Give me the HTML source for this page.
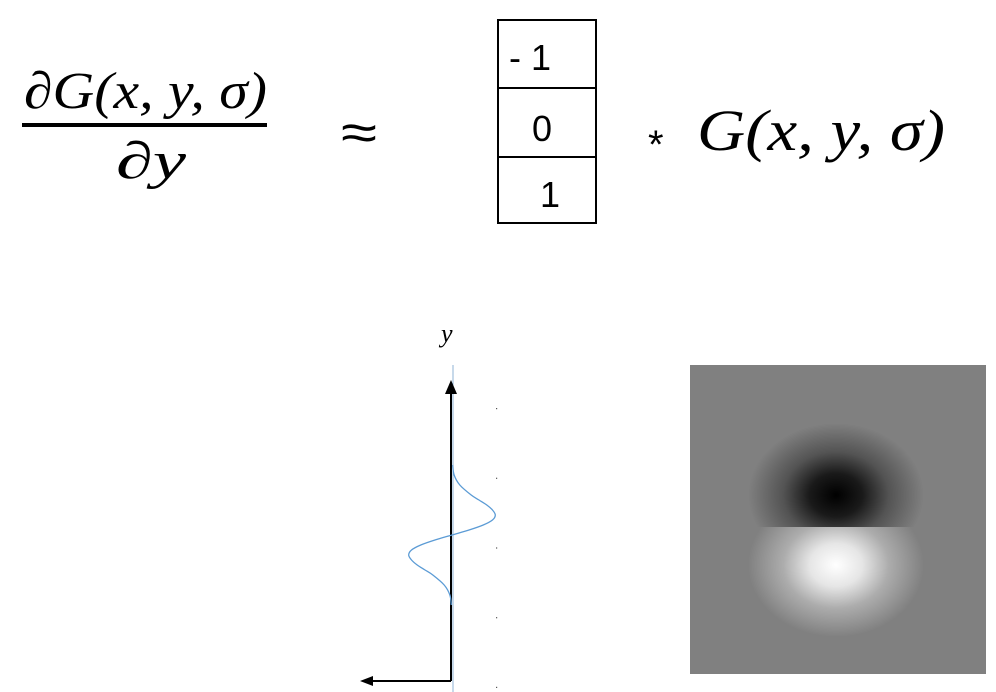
<!DOCTYPE html>
<html><head><meta charset="utf-8"><style>
html,body{margin:0;padding:0;background:#fff;width:996px;height:692px;overflow:hidden}
svg{display:block}
.m{font-family:"Liberation Serif",serif;font-style:italic}
.s{font-family:"Liberation Sans",sans-serif}
</style></head><body>
<svg width="996" height="692" viewBox="0 0 996 692">
<g>
 <text class="m" x="24" y="108" font-size="52" textLength="243" lengthAdjust="spacingAndGlyphs">∂G(x, y, σ)</text>
 <rect x="22" y="123" width="245" height="4" fill="#000"/>
 <text class="m" x="116" y="178" font-size="52" textLength="70" lengthAdjust="spacingAndGlyphs">∂y</text>
</g>
<text class="s" x="341" y="150" font-size="52" textLength="36" lengthAdjust="spacingAndGlyphs">≈</text>
<g>
 <rect x="498" y="20" width="98" height="203" fill="none" stroke="#000" stroke-width="2"/>
 <line x1="498" y1="88" x2="596" y2="88" stroke="#000" stroke-width="2"/>
 <line x1="498" y1="157" x2="596" y2="157" stroke="#000" stroke-width="2"/>
 <text class="s" x="509" y="70" font-size="36">- 1</text>
 <text class="s" x="532" y="141" font-size="36">0</text>
 <text class="s" x="540" y="207" font-size="36">1</text>
</g>
<text class="s" x="648" y="158" font-size="40">*</text>
<text class="m" x="697" y="150" font-size="58" textLength="248" lengthAdjust="spacingAndGlyphs">G(x, y, σ)</text>

<g id="plot">
 <text class="m" x="441" y="342" font-size="26">y</text>
 <line x1="453" y1="365" x2="453" y2="692" stroke="#8fb3d6" stroke-width="1"/>
 <line x1="451" y1="392" x2="451" y2="681" stroke="#000" stroke-width="2"/>
 <polygon points="451,380 445,394 457,394" fill="#000"/>
 <line x1="451" y1="681" x2="372" y2="681" stroke="#000" stroke-width="2"/>
 <polygon points="360,681 373,676 373,686" fill="#000"/>
</g>

<defs>
 <radialGradient id="dk" cx="0.5" cy="0.5" r="0.5">
  <stop offset="0" stop-color="#000" stop-opacity="1"/>
  <stop offset="0.3" stop-color="#000" stop-opacity="0.8"/>
  <stop offset="0.6" stop-color="#000" stop-opacity="0.35"/>
  <stop offset="1" stop-color="#000" stop-opacity="0"/>
 </radialGradient>
 <radialGradient id="lt" cx="0.5" cy="0.5" r="0.5">
  <stop offset="0" stop-color="#fff" stop-opacity="1"/>
  <stop offset="0.3" stop-color="#fff" stop-opacity="0.8"/>
  <stop offset="0.6" stop-color="#fff" stop-opacity="0.35"/>
  <stop offset="1" stop-color="#fff" stop-opacity="0"/>
 </radialGradient>
 <clipPath id="top"><rect x="690" y="365" width="296" height="162"/></clipPath>
 <clipPath id="bot"><rect x="690" y="527" width="296" height="147"/></clipPath>
</defs>
<g>
 <rect x="690" y="365" width="296" height="309" fill="#808080"/>
 <ellipse cx="836" cy="495" rx="88" ry="72" fill="url(#dk)" clip-path="url(#top)"/>
 <ellipse cx="836" cy="565" rx="88" ry="72" fill="url(#lt)" clip-path="url(#bot)"/>
</g>
</svg>
<script>
// sampled derivative-of-gaussian response (positive = right of axis), position in sigma units along y (top -> bottom)
const samples = [-3.5,-3,-2.5,-2,-1.75,-1.5,-1.25,-1,-0.75,-0.5,-0.25,0,0.25,0.5,0.75,1,1.25,1.5,1.75,2,2.5,3,3.5];
const values = [0.01,0.03,0.11,0.27,0.38,0.49,0.57,0.61,0.57,0.44,0.24,0,-0.24,-0.44,-0.57,-0.61,-0.57,-0.49,-0.38,-0.27,-0.11,-0.03,-0.01];
const ticks = [0,1,2,3,4];
const NS='http://www.w3.org/2000/svg';
const plot=document.getElementById('plot');
const yOf=t=>535+t*20;
const xOf=v=>452+v*71;
const pts=samples.map((s,i)=>[xOf(values[i]),yOf(s)]);
let d='M'+pts[0][0]+','+pts[0][1];
for(let i=0;i<pts.length-1;i++){
  const p0=pts[Math.max(0,i-1)],p1=pts[i],p2=pts[i+1],p3=pts[Math.min(pts.length-1,i+2)];
  const c1=[p1[0]+(p2[0]-p0[0])/6,p1[1]+(p2[1]-p0[1])/6];
  const c2=[p2[0]-(p3[0]-p1[0])/6,p2[1]-(p3[1]-p1[1])/6];
  d+=' C'+c1[0]+','+c1[1]+' '+c2[0]+','+c2[1]+' '+p2[0]+','+p2[1];
}
const p=document.createElementNS(NS,'path');
p.setAttribute('d',d);p.setAttribute('fill','none');p.setAttribute('stroke','#5b9bd5');p.setAttribute('stroke-width','1.3');


plot.appendChild(p);
ticks.forEach(k=>{
  const r=document.createElementNS(NS,'rect');
  r.setAttribute('x',496);r.setAttribute('y',408+k*69.7);r.setAttribute('width',1.2);r.setAttribute('height',1.2);r.setAttribute('fill','#555');
  
  
  plot.appendChild(r);
});
</script>
</body></html>
